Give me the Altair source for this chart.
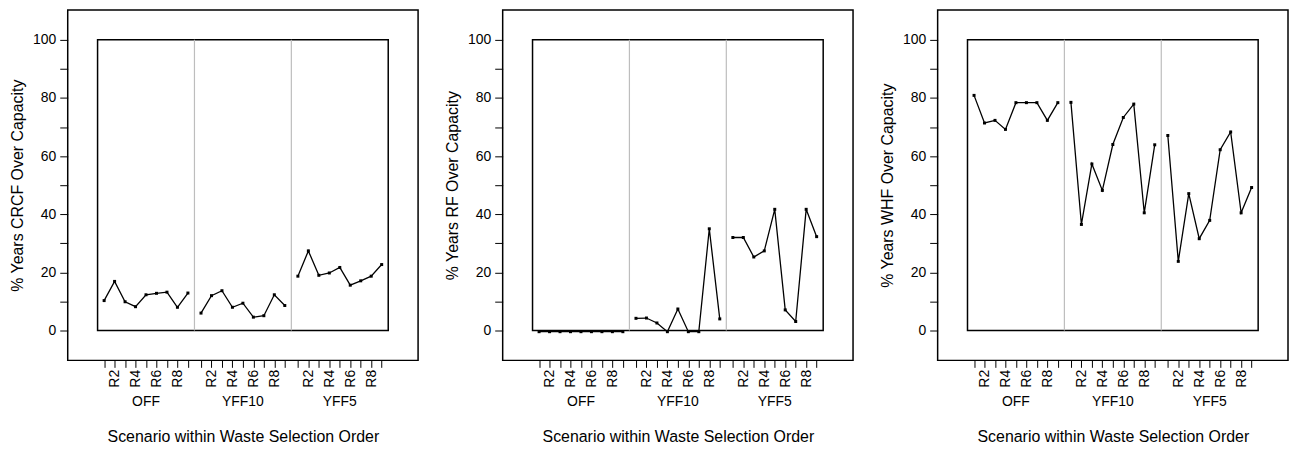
import altair as alt
import pandas as pd

# ---------------- data ----------------
groups = ["OFF", "YFF10", "YFF5"]
scenarios = ["R1", "R2", "R3", "R4", "R5", "R6", "R7", "R8", "R9"]

crcf_off = [10.3, 16.9, 9.9, 8.2, 12.3, 12.8, 13.2, 8.0, 12.9]
crcf_yff10 = [6.0, 12.0, 13.7, 8.0, 9.4, 4.6, 5.1, 12.3, 8.6]
crcf_yff5 = [18.7, 27.4, 19.0, 19.8, 21.7, 15.6, 17.1, 18.7, 22.7]

rf_off = [-0.4, -0.4, -0.4, -0.4, -0.4, -0.4, -0.4, -0.4, -0.4]
rf_yff10 = [4.2, 4.3, 2.6, -0.4, 7.4, -0.4, -0.4, 35.0, 4.0]
rf_yff5 = [32.0, 32.0, 25.3, 27.4, 41.7, 7.1, 3.1, 41.7, 32.3]

whf_off = [80.9, 71.4, 72.3, 69.2, 78.4, 78.4, 78.4, 72.3, 78.4]
whf_yff10 = [78.5, 36.5, 57.3, 48.2, 64.0, 73.3, 77.9, 40.5, 63.9]
whf_yff5 = [67.1, 23.8, 47.1, 31.6, 37.9, 62.2, 68.3, 40.5, 49.2]

y_titles = ["% Years CRCF Over Capacity", "% Years RF Over Capacity", "% Years WHF Over Capacity"]
x_title = "Scenario within Waste Selection Order"
y_ticks = [0, 10, 20, 30, 40, 50, 60, 70, 80, 90, 100]

panels = [
    [crcf_off, crcf_yff10, crcf_yff5],
    [rf_off, rf_yff10, rf_yff5],
    [whf_off, whf_yff10, whf_yff5],
]

# ---------------- layout helpers (positions on the category axis) ----------------
GW = 9.25          # width of one group, in scenario steps
OFF0 = 0.625       # offset of first scenario inside a group
XPAD = 2.85        # outer frame padding (x units)
YPAD = 10.27       # outer frame padding (y units)
inner_right = GW * len(groups)

FONT = "Liberation Sans"
W = 352
H = 352


def xpos(g, i):
    return g * GW + OFF0 + i


tick_positions = [xpos(g, i) for g in range(len(groups)) for i in range(len(scenarios))]

label_expr = (
    f"(round((datum.value - {OFF0}) % {GW}) + 1) % 2 == 0 ? "
    f"'R' + (round((datum.value - {OFF0}) % {GW}) + 1) : ''"
)

xscale = alt.Scale(domain=[-XPAD, inner_right + XPAD], nice=False, zero=False)
yscale = alt.Scale(domain=[-YPAD, 100 + YPAD], nice=False, zero=False)


def make_panel(series, ytitle):
    rows = []
    for g, gname in enumerate(groups):
        for i, s in enumerate(scenarios):
            rows.append({"group": gname, "scenario": s, "x": xpos(g, i), "value": series[g][i]})
    df = pd.DataFrame(rows)

    xaxis = alt.Axis(
        values=tick_positions, tickCount=len(tick_positions) + 5,
        labelExpr=label_expr, labelAngle=270,
        labelOverlap=False, labelFlush=False,
        tickSize=7, tickColor="black", tickWidth=1, labelPadding=2,
        labelFontSize=14, labelColor="black", labelFont=FONT,
        grid=False, domain=False, title=x_title, titleFont=FONT,
        titleFontSize=16, titleFontWeight="normal", titleColor="black",
        titleY=77, titleBaseline="middle",
    )
    yaxis = alt.Axis(
        values=y_ticks, tickCount=len(y_ticks) + 2,
        labelExpr="datum.value % 20 == 0 ? datum.label : ''",
        labelOverlap=False,
        tickSize=8, tickColor="black", tickWidth=1, labelPadding=4,
        labelFontSize=14, labelColor="black", labelFont=FONT,
        grid=False, domain=False, title=ytitle, titleFont=FONT,
        titleFontSize=16, titleFontWeight="normal", titleColor="black",
        titlePadding=7,
    )

    box_df = pd.DataFrame({"x0": [0.0], "x1": [inner_right], "y0": [0], "y1": [100]})
    box = alt.Chart(box_df).mark_rect(fill=None, stroke="black", strokeWidth=1.5).encode(
        x=alt.X("x0:Q", scale=xscale, axis=xaxis), x2="x1:Q",
        y=alt.Y("y0:Q", scale=yscale, axis=yaxis), y2="y1:Q",
    )

    sep_df = pd.DataFrame({"x": [GW * g for g in range(1, len(groups))],
                           "y0": [0] * (len(groups) - 1), "y1": [100] * (len(groups) - 1)})
    seps = alt.Chart(sep_df).mark_rule(color="#bdbdbd", strokeWidth=1.2).encode(
        x=alt.X("x:Q", scale=xscale, axis=xaxis), y=alt.Y("y0:Q", scale=yscale, axis=yaxis), y2="y1:Q"
    )

    line = alt.Chart(df).mark_line(color="black", strokeWidth=1.3).encode(
        x=alt.X("x:Q", scale=xscale, axis=xaxis), y=alt.Y("value:Q", scale=yscale, axis=yaxis),
        detail="group:N"
    )
    pts = alt.Chart(df).mark_square(color="black", size=9, opacity=1).encode(
        x=alt.X("x:Q", scale=xscale, axis=xaxis), y=alt.Y("value:Q", scale=yscale, axis=yaxis)
    )

    glab_df = pd.DataFrame({"group": groups,
                            "x": [g * GW + GW / 2 for g in range(len(groups))]})
    glab = alt.Chart(glab_df).mark_text(
        font=FONT, fontSize=14, color="black", baseline="middle", align="center"
    ).encode(x=alt.X("x:Q", scale=xscale, axis=xaxis), y=alt.value(H + 42), text="group:N")

    return alt.layer(box, seps, line, pts, glab).properties(width=W, height=H)


charts = [make_panel(p, t) for p, t in zip(panels, y_titles)]

chart = alt.hconcat(*charts, spacing=24).properties(
    padding=0, background="white"
).configure_view(stroke="black", strokeWidth=1.5)

chart.save("out.html", embed_options={"renderer": "svg", "actions": False})
